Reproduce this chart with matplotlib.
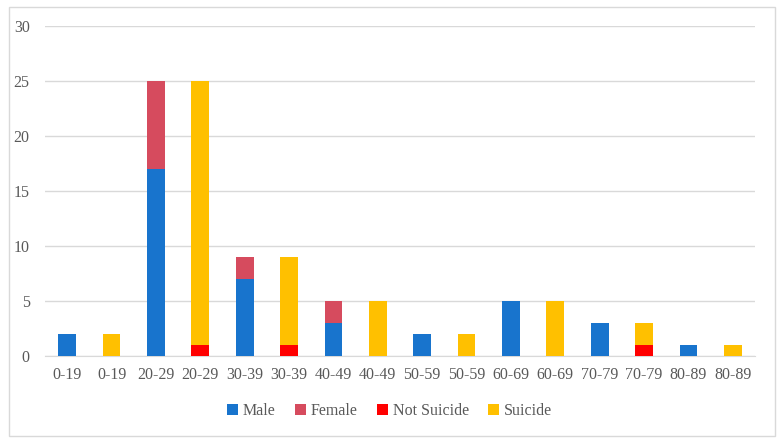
import matplotlib.pyplot as plt
from matplotlib.patches import Rectangle
import numpy as np

labels = ['0-19', '0-19', '20-29', '20-29', '30-39', '30-39', '40-49', '40-49',
          '50-59', '50-59', '60-69', '60-69', '70-79', '70-79', '80-89', '80-89']
# sex bars sit at even positions, outcome bars at odd positions
male = [2, 17, 7, 3, 2, 5, 3, 1]
female = [0, 8, 2, 2, 0, 0, 0, 0]
not_suicide = [0, 1, 1, 0, 0, 0, 1, 0]
suicide = [2, 24, 8, 5, 2, 5, 2, 1]

plt.rcParams['font.family'] = ['Liberation Serif', 'DejaVu Serif']
grey = '#595959'

fig = plt.figure(figsize=(7.79, 4.42), dpi=100)
fig.patches.append(Rectangle((9 / 779, 6 / 442), 766 / 779, 429 / 442,
                             transform=fig.transFigure, fill=False,
                             edgecolor='#D9D9D9', linewidth=1))
ax = fig.add_axes([45 / 779, 1 - 356 / 442, 710 / 779, 330 / 442])

xs = np.arange(0, 16, 2)
xo = xs + 1
w = 0.4
ax.bar(xs, male, w, color='#1874CD', label='Male', zorder=3)
ax.bar(xs, female, w, bottom=male, color='#D64B5E', label='Female', zorder=3)
ax.bar(xo, not_suicide, w, color='#FF0000', label='Not Suicide', zorder=3)
ax.bar(xo, suicide, w, bottom=not_suicide, color='#FFC000', label='Suicide', zorder=3)

ax.set_xlim(-0.5, 15.5)
ax.set_ylim(0, 30)
ax.set_yticks(range(0, 31, 5))
ax.set_xticks(range(16))
ax.set_xticklabels(labels)
ax.tick_params(length=0, colors=grey, labelsize=11.5)
ax.tick_params(axis='x', pad=8)
ax.tick_params(axis='y', pad=11)
ax.grid(axis='y', color='#D9D9D9', linewidth=1, zorder=0)
for s in ['top', 'right', 'left']:
    ax.spines[s].set_visible(False)
ax.spines['bottom'].set_color('#D9D9D9')

leg = fig.legend(loc='center', bbox_to_anchor=(0.5, 1 - 411 / 442), ncol=4,
                 frameon=False, fontsize=11.5, handlelength=0.7, handleheight=0.7,
                 handletextpad=0.3, columnspacing=1.2)
for t in leg.get_texts():
    t.set_color(grey)

fig.savefig('out.png', dpi=100)
